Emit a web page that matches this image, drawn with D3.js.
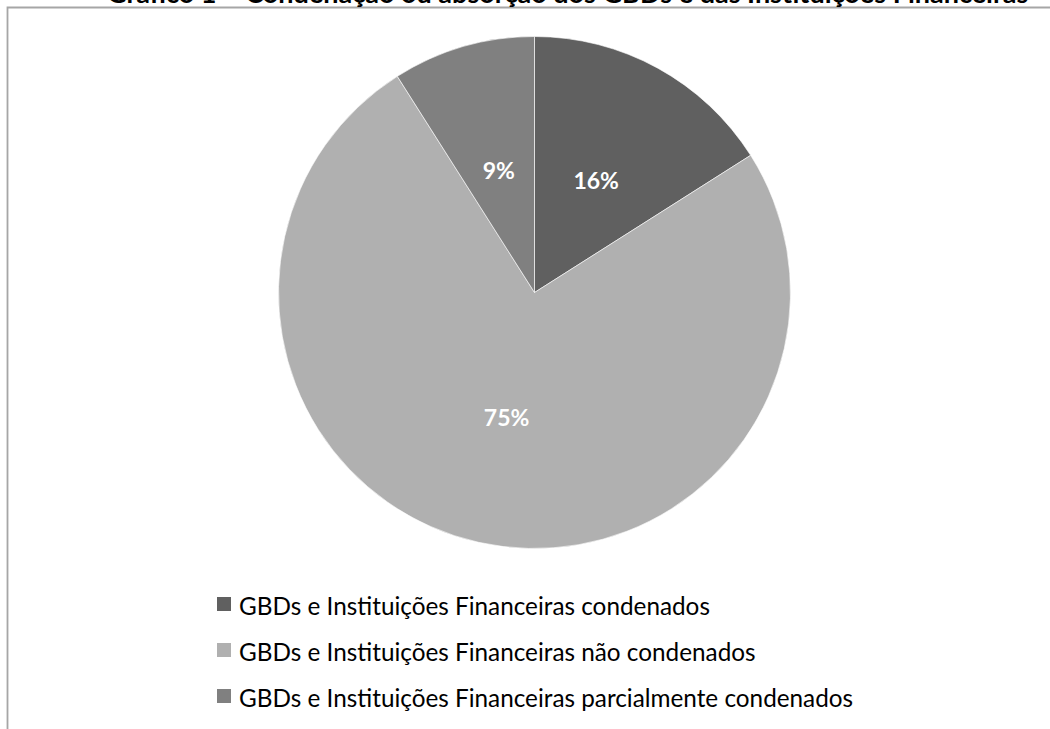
<!DOCTYPE html>
<html>
<head>
<meta charset="utf-8">
<script src="https://cdn.jsdelivr.net/npm/d3@7"></script>
<style>
  body { margin: 0; background: #fff; }
  svg { display: block; }
</style>
</head>
<body>
<div id="chart"></div>
<script>
// data
let categories = [
    'GBDs e Instituições Financeiras condenados',
    'GBDs e Instituições Financeiras não condenados',
    'GBDs e Instituições Financeiras parcialmente condenados'
];
let values = [16, 75, 9];
let colors = ['#606060', '#b0b0b0', '#808080'];
let title = 'Gráfico 1 – Condenação ou absorção dos GBDs e das Instituições Financeiras';

let W = 1050, H = 729;
let cx = 534.5, cy = 292.5, R = 256;
let fontFam = 'Lato, "Open Sans", sans-serif';

let svg = d3.select('#chart').append('svg')
    .attr('width', W)
    .attr('height', H);

// frame (cut off at right and bottom)
svg.append('path')
    .attr('d', `M7.5,${H + 5} V7.5 H${W + 5}`)
    .attr('fill', 'none')
    .attr('stroke', '#a6a6a6')
    .attr('stroke-width', 1.8);

// title, mostly above the visible area (cut in the original too)
svg.append('text')
    .attr('x', 107)
    .attr('y', 3)
    .attr('font-family', fontFam)
    .attr('font-weight', 'bold')
    .attr('font-size', 27)
    .attr('fill', '#000')
    .text(title);

let pie = d3.pie().sort(null).value(d => d);
let arcs = pie(values);
let arc = d3.arc().innerRadius(0).outerRadius(R);
let labelArc = d3.arc().innerRadius(R / 2).outerRadius(R / 2);

let g = svg.append('g').attr('transform', `translate(${cx}, ${cy})`);

g.selectAll('.slice')
    .data(arcs)
    .join('path')
    .classed('slice', true)
    .attr('d', arc)
    .attr('fill', (d, i) => colors[i])
    .attr('stroke', '#ffffff')
    .attr('stroke-width', 0.6);

let total = d3.sum(values);
g.selectAll('.lbl')
    .data(arcs)
    .join('text')
    .classed('lbl', true)
    .attr('x', d => labelArc.centroid(d)[0])
    .attr('y', d => labelArc.centroid(d)[1])
    .attr('text-anchor', 'middle')
    .attr('dominant-baseline', 'central')
    .attr('font-family', fontFam)
    .attr('font-weight', 'bold')
    .attr('font-size', 23)
    .attr('fill', '#fff')
    .text(d => Math.round(d.value / total * 100) + '%');

// legend
let legendY = d3.scalePoint()
    .domain(categories)
    .range([604, 696]);

let legend = svg.selectAll('.legend')
    .data(categories)
    .join('g')
    .classed('legend', true)
    .attr('transform', d => `translate(217, ${legendY(d)})`);

legend.append('rect')
    .attr('x', 0)
    .attr('y', -7)
    .attr('width', 14)
    .attr('height', 14)
    .attr('fill', (d, i) => colors[i]);

legend.append('text')
    .attr('x', 22)
    .attr('y', 1)
    .attr('dominant-baseline', 'central')
    .attr('font-family', fontFam)
    .attr('font-size', 24.3)
    .attr('fill', '#000')
    .text(d => d);
</script>
</body>
</html>
